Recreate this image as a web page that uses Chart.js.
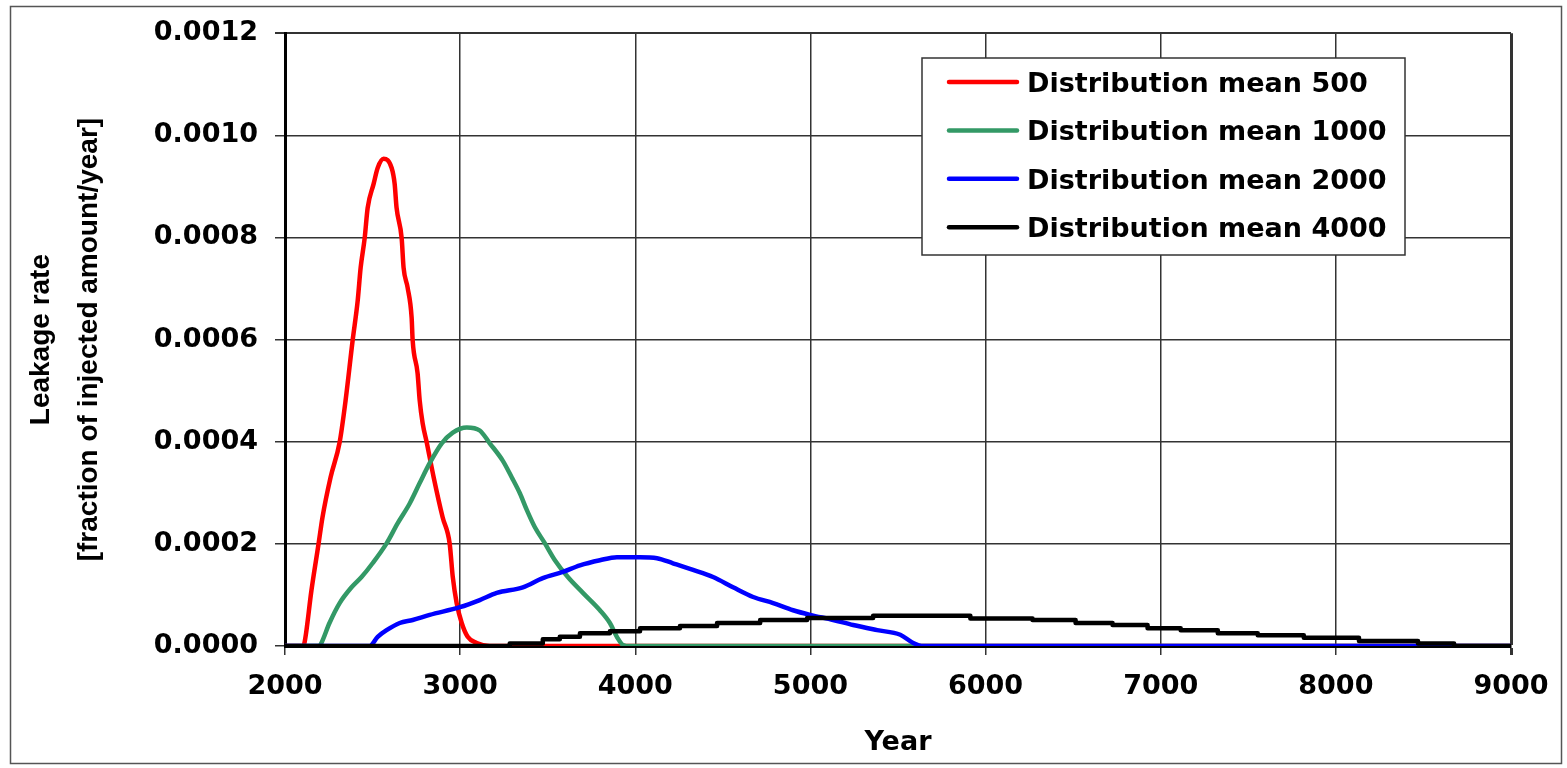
<!DOCTYPE html>
<html>
<head>
<meta charset="utf-8">
<title>Leakage rate</title>
<script src="https://cdn.jsdelivr.net/npm/chart.js@4.4.1/dist/chart.umd.min.js"></script>
<style>
  body { margin: 0; background: #fff; }
  #wrap { width: 1567px; height: 768px; }
</style>
</head>
<body>
<div id="wrap"><canvas id="leakChart" width="1567" height="768"></canvas></div>
<script>
// --- Data ---
const xTicks = [2000, 3000, 4000, 5000, 6000, 7000, 8000, 9000];
const yTicks = [0, 0.0002, 0.0004, 0.0006, 0.0008, 0.0010, 0.0012];

const seriesLabels = ['Distribution mean 500', 'Distribution mean 1000', 'Distribution mean 2000', 'Distribution mean 4000'];
const seriesColors = ['#ff0000', '#339966', '#0000ff', '#000000'];

const redYears = [2000, 2100, 2111, 2151, 2192, 2214, 2260, 2312, 2346, 2386, 2415, 2432, 2455, 2472, 2506, 2529, 2563, 2609, 2626, 2637, 2666, 2677, 2700, 2723, 2729, 2757, 2769, 2786, 2809, 2849, 2900, 2940, 2958, 2980, 3009, 3043, 3095, 3169, 9000];
const redVals = [0, 0, 0.000006, 0.000109, 0.000201, 0.000252, 0.00033, 0.000399, 0.000481, 0.000598, 0.000676, 0.000741, 0.000799, 0.000858, 0.000905, 0.000936, 0.000954, 0.000936, 0.000905, 0.000858, 0.000799, 0.000741, 0.000702, 0.000643, 0.000598, 0.000534, 0.000481, 0.000436, 0.000399, 0.00033, 0.000252, 0.000201, 0.000135, 0.000084, 0.000045, 0.000018, 0.000006, 0, 0];

const greenYears = [2000, 2197, 2208, 2254, 2312, 2380, 2437, 2500, 2580, 2643, 2712, 2769, 2826, 2895, 2958, 3038, 3112, 3169, 3243, 3295, 3341, 3381, 3426, 3484, 3541, 3615, 3701, 3798, 3855, 3895, 3930, 3970, 9000];
const greenVals = [0, 0, 0.000006, 0.000045, 0.000084, 0.000115, 0.000135, 0.000162, 0.000201, 0.00024, 0.000279, 0.000319, 0.000358, 0.000397, 0.000418, 0.000428, 0.000422, 0.000397, 0.000363, 0.00033, 0.000299, 0.000266, 0.000233, 0.000201, 0.000168, 0.000135, 0.000104, 0.00007, 0.000045, 0.000018, 0.000002, 0, 0];

const blueYears = [2000, 2483, 2529, 2580, 2655, 2729, 2826, 2998, 3112, 3209, 3358, 3472, 3586, 3684, 3798, 3895, 4027, 4124, 4215, 4330, 4444, 4558, 4673, 4787, 4901, 4998, 5130, 5244, 5381, 5513, 5587, 5644, 9000];
const blueVals = [0, 0, 0.000018, 0.000031, 0.000045, 0.000051, 0.000061, 0.000076, 0.00009, 0.000104, 0.000115, 0.000133, 0.000145, 0.000158, 0.000168, 0.000174, 0.000174, 0.000172, 0.000162, 0.000149, 0.000135, 0.000115, 0.000096, 0.000084, 0.00007, 0.000061, 0.000051, 0.000041, 0.000031, 0.000022, 0.000006, 0, 0];

// black one is a staircase, each value holds until the next year
const blackYears = [2000, 3283, 3472, 3569, 3684, 3855, 4027, 4255, 4467, 4713, 4981, 5358, 5913, 6268, 6514, 6725, 6925, 7114, 7326, 7554, 7817, 8132, 8469, 8675, 9000];
const blackVals = [0, 0.000005, 0.000013, 0.000018, 0.000025, 0.000029, 0.000035, 0.000039, 0.000045, 0.000051, 0.000055, 0.000059, 0.000054, 0.000051, 0.000045, 0.000041, 0.000035, 0.000031, 0.000025, 0.000021, 0.000016, 0.00001, 0.000005, 0, 0];

const toPoints = (xs, ys) => xs.map((x, i) => ({ x: x, y: ys[i] }));

// --- Plugins ---
// legend box sits inside the plot, so it's drawn by hand
const boxLegend = {
    id: 'boxLegend',
    afterDatasetsDraw(chart) {
        const ctx = chart.ctx;
        ctx.save();
        ctx.fillStyle = '#fff';
        ctx.fillRect(922, 58, 483, 197);
        ctx.strokeStyle = '#333';
        ctx.lineWidth = 1.5;
        ctx.strokeRect(922, 58, 483, 197);
        ctx.font = 'bold 27px "DejaVu Sans"';
        ctx.textBaseline = 'alphabetic';
        ctx.lineCap = 'round';
        chart.data.datasets.forEach((ds, i) => {
            const yMid = 82 + i * 48.4;
            ctx.strokeStyle = ds.borderColor;
            ctx.lineWidth = 4.5;
            ctx.beginPath();
            ctx.moveTo(949, yMid);
            ctx.lineTo(1017, yMid);
            ctx.stroke();
            ctx.fillStyle = '#000';
            ctx.fillText(ds.label, 1027, yMid + 10);
        });
        ctx.restore();
    }
};

const outerFrame = {
    id: 'outerFrame',
    afterDraw(chart) {
        const ctx = chart.ctx;
        ctx.save();
        ctx.strokeStyle = '#555';
        ctx.lineWidth = 1.5;
        ctx.strokeRect(10.5, 6.5, 1551, 757);
        ctx.restore();
    }
};

// --- Chart ---
const tickFont = { family: 'DejaVu Sans', size: 27, weight: 'bold' };
const allYears = [redYears, greenYears, blueYears, blackYears];
const allVals = [redVals, greenVals, blueVals, blackVals];

const datasets = seriesLabels.map((label, i) => ({
    label: label,
    data: toPoints(allYears[i], allVals[i]),
    borderColor: seriesColors[i],
    borderWidth: 4.5,
    pointRadius: 0,
    fill: false,
    borderJoinStyle: 'round',
    cubicInterpolationMode: i === 3 ? 'default' : 'monotone',
    stepped: i === 3,
    order: 4 - i // black on top, then blue, green, red
}));

new Chart(document.getElementById('leakChart'), {
    type: 'line',
    data: { datasets: datasets },
    options: {
        responsive: false,
        animation: false,
        devicePixelRatio: 1,
        layout: { padding: { left: 0, top: 32, right: 56, bottom: 0 } },
        plugins: { legend: { display: false }, tooltip: { enabled: false } },
        scales: {
            x: {
                type: 'linear',
                min: 2000,
                max: 9000,
                afterFit: s => { s.height = 122; },
                afterBuildTicks: s => { s.ticks = xTicks.map(v => ({ value: v })); },
                ticks: { font: tickFont, color: '#000', padding: 16, maxRotation: 0, autoSkip: false, callback: v => String(v) },
                grid: {
                    color: '#333',
                    lineWidth: c => (c.tick && c.tick.value === 9000 ? 3 : 1.5),
                    tickLength: 9
                },
                border: { color: '#000', width: 3 },
                title: { display: true, text: 'Year', color: '#000', font: tickFont, padding: { top: 0, bottom: 9 } }
            },
            y: {
                min: 0,
                max: 0.0012,
                afterFit: s => { s.width = 285; },
                afterBuildTicks: s => { s.ticks = yTicks.map(v => ({ value: v })); },
                ticks: { font: tickFont, color: '#000', padding: 17, callback: v => v.toFixed(4) },
                grid: {
                    color: '#333',
                    lineWidth: c => (c.tick && Math.abs(c.tick.value - 0.0012) < 1e-9 ? 2 : 1.5),
                    tickLength: 10
                },
                border: { color: '#000', width: 3 },
                title: {
                    display: true,
                    text: ['Leakage rate', '[fraction of injected amount/year]'],
                    color: '#000',
                    font: { family: 'Liberation Sans', size: 28, weight: 'bold', lineHeight: 1.72 },
                    padding: { top: 17, bottom: 0 }
                }
            }
        }
    },
    plugins: [boxLegend, outerFrame]
});
</script>
</body>
</html>
